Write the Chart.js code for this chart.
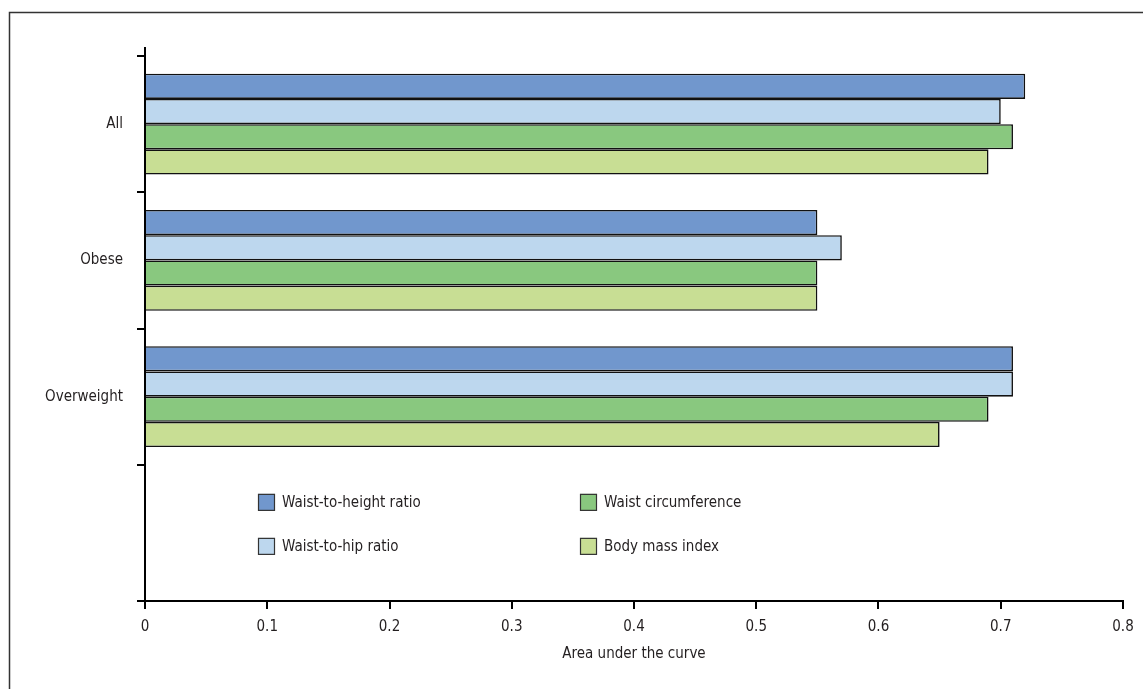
<!DOCTYPE html>
<html>
<head>
<meta charset="utf-8">
<script src="https://cdn.jsdelivr.net/npm/chart.js@4/dist/chart.umd.min.js"></script>
<style>
html,body{margin:0;padding:0;background:#fff;}
#wrap{position:relative;width:1143px;height:689px;}
</style>
</head>
<body>
<div id="wrap"><canvas id="c" width="1143" height="689"></canvas></div>
<script>
const categories = ["All", "Obese", "Overweight", ""];
const seriesNames = ["Waist-to-height ratio", "Waist-to-hip ratio", "Waist circumference", "Body mass index"];
const waistToHeight = [0.72, 0.55, 0.71, null];
const waistToHip = [0.70, 0.57, 0.71, null];
const waistCircumference = [0.71, 0.55, 0.69, null];
const bodyMassIndex = [0.69, 0.55, 0.65, null];
const xTicks = [0, 0.1, 0.2, 0.3, 0.4, 0.5, 0.6, 0.7, 0.8];
const colors = ["#7197CD", "#BDD7EE", "#89C87F", "#C8DE94"];

const FONT = "'Liberation Sans Narrow', 'DejaVu Sans Condensed', 'Liberation Sans', sans-serif";
const TEXT = "#231F20";

const framePlugin = {
  id: 'frame',
  beforeDraw(chart) {
    const ctx = chart.ctx;
    ctx.save();
    ctx.fillStyle = '#fff';
    ctx.fillRect(0, 0, chart.width, chart.height);
    ctx.strokeStyle = '#333';
    ctx.lineWidth = 1.5;
    ctx.beginPath();
    ctx.moveTo(9.5, chart.height);
    ctx.lineTo(9.5, 12.5);
    ctx.lineTo(chart.width, 12.5);
    ctx.stroke();
    ctx.restore();
  },
  afterDraw(chart) {
    const ctx = chart.ctx;
    const a = chart.chartArea;
    ctx.save();
    ctx.strokeStyle = '#000';
    ctx.lineWidth = 2;
    ctx.beginPath();
    ctx.moveTo(a.left, a.top);
    ctx.lineTo(a.left, a.top - 9);
    ctx.stroke();
    const yScale = chart.scales.y;
    const cy = yScale.getPixelForValue(3);
    const rows = [cy - 31, cy + 13];
    const cols = [a.left + 113, a.left + 435];
    ctx.font = "15px " + FONT;
    ctx.textBaseline = 'middle';
    ctx.textAlign = 'left';
    chart.data.datasets.forEach((ds, i) => {
      const col = Math.floor(i / 2), row = i % 2;
      const x = cols[col], y = rows[row];
      ctx.fillStyle = ds.backgroundColor;
      ctx.fillRect(x, y - 8, 17, 17);
      ctx.strokeStyle = '#333';
      ctx.lineWidth = 1.2;
      ctx.strokeRect(x + 0.5, y - 7.5, 16, 16);
      ctx.fillStyle = TEXT;
      ctx.fillText(ds.label, x + 24, y + 1);
    });
    ctx.restore();
  }
};

const seriesData = [waistToHeight, waistToHip, waistCircumference, bodyMassIndex];

new Chart(document.getElementById('c'), {
  type: 'bar',
  data: {
    labels: categories,
    datasets: seriesData.map((d, i) => ({
      label: seriesNames[i],
      data: d,
      backgroundColor: colors[i],
      borderColor: '#111',
      borderWidth: 1.6,
      borderSkipped: 'start',
      categoryPercentage: 0.74,
      barPercentage: 1.0
    }))
  },
  options: {
    indexAxis: 'y',
    responsive: false,
    animation: false,
    layout: { padding: { left: 0, right: 20, top: 56, bottom: 26 } },
    plugins: {
      legend: { display: false },
      tooltip: { enabled: false },
      title: { display: false }
    },
    scales: {
      x: {
        type: 'linear',
        min: 0,
        max: 0.8,
        afterBuildTicks(scale) { scale.ticks = xTicks.map(v => ({ value: v })); },
        afterFit(scale) { scale.height = 62; },
        border: { display: true, color: '#000', width: 2 },
        grid: { drawOnChartArea: false, drawTicks: true, tickLength: 8, color: '#000', lineWidth: 2 },
        ticks: {
          color: TEXT,
          font: { size: 15, family: FONT },
          padding: 9,
          callback: (v) => String(v)
        },
        title: {
          display: true,
          text: 'Area under the curve',
          color: TEXT,
          font: { size: 15, family: FONT },
          padding: { top: 4, bottom: 0 }
        }
      },
      y: {
        type: 'category',
        afterFit(scale) { scale.width = 145; },
        border: { display: true, color: '#000', width: 2 },
        grid: { drawOnChartArea: false, drawTicks: true, tickLength: 8, color: '#000', lineWidth: 2, offset: true },
        ticks: {
          color: TEXT,
          font: { size: 15, family: FONT },
          padding: 14
        }
      }
    }
  },
  plugins: [framePlugin]
});
</script>
</body>
</html>
